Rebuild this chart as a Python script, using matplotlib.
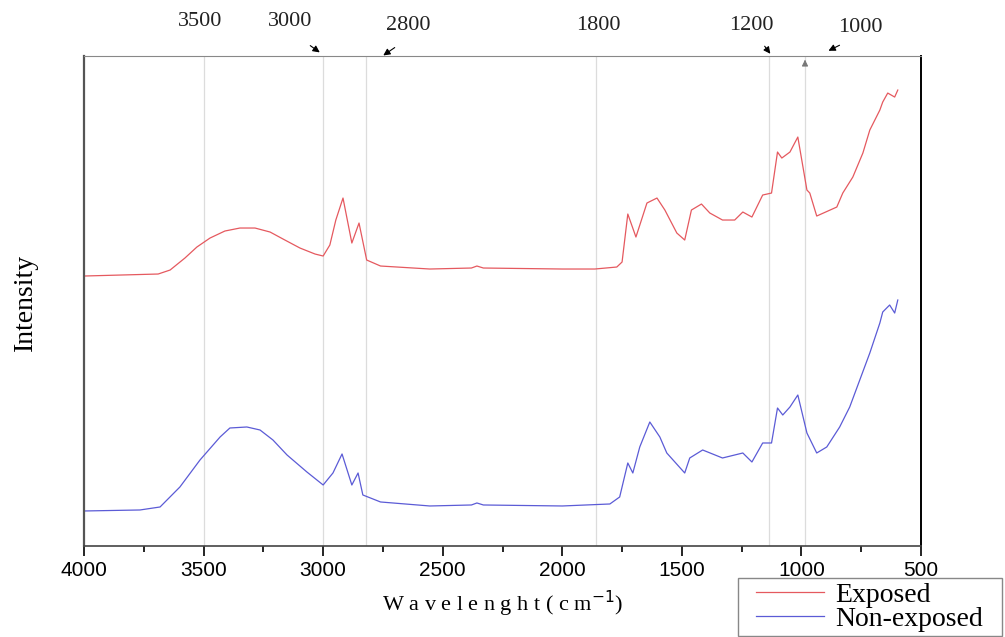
import numpy as np
import matplotlib.pyplot as plt
from matplotlib.ticker import MultipleLocator

# Data (arbitrary intensity units)
wn_exposed = [4000, 3690, 3640, 3578, 3528, 3473, 3411, 3348, 3285, 3222, 3160,
              3097, 3034, 3000, 2972, 2947, 2917, 2880, 2850, 2818, 2760, 2554,
              2380, 2357, 2330, 2000, 1864, 1772, 1750, 1726, 1692, 1646, 1604,
              1571, 1521, 1488, 1460, 1418, 1383, 1330, 1279, 1245, 1207, 1162,
              1125, 1100, 1082, 1048, 1015, 977, 965, 936, 852, 827, 785, 743,
              714, 672, 660, 639, 610, 597]
int_exposed = [2.70, 2.72, 2.76, 2.88, 2.99, 3.08, 3.15, 3.18, 3.18, 3.14, 3.06,
               2.98, 2.92, 2.90, 3.01, 3.26, 3.48, 3.03, 3.23, 2.86, 2.80, 2.77,
               2.78, 2.80, 2.78, 2.77, 2.77, 2.79, 2.84, 3.32, 3.09, 3.43, 3.48,
               3.36, 3.13, 3.06, 3.36, 3.42, 3.33, 3.26, 3.26, 3.34, 3.29, 3.51,
               3.53, 3.94, 3.88, 3.94, 4.09, 3.56, 3.53, 3.30, 3.39, 3.53, 3.69, 3.93,
               4.16, 4.36, 4.44, 4.53, 4.49, 4.56]

wn_nonexp = [4000, 3766, 3682, 3599, 3515, 3431, 3390, 3319, 3264, 3210, 3151,
             3068, 3000, 2959, 2921, 2880, 2854, 2834, 2760, 2554, 2380, 2357,
             2330, 2000, 1801, 1760, 1726, 1705, 1676, 1634, 1592, 1563, 1488,
             1467, 1413, 1330, 1245, 1207, 1162, 1125, 1100, 1078, 1048, 1015,
             977, 936, 894, 840, 798, 756, 714, 672, 660, 631, 610, 597]
int_nonexp = [0.35, 0.36, 0.39, 0.59, 0.86, 1.09, 1.18, 1.19, 1.16, 1.06, 0.91,
              0.74, 0.61, 0.73, 0.92, 0.61, 0.73, 0.51, 0.44, 0.40, 0.41, 0.43,
              0.41, 0.40, 0.42, 0.49, 0.83, 0.73, 0.99, 1.24, 1.09, 0.93, 0.73,
              0.88, 0.96, 0.88, 0.93, 0.84, 1.03, 1.03, 1.38, 1.31, 1.39, 1.51,
              1.13, 0.93, 0.99, 1.19, 1.39, 1.66, 1.93, 2.23, 2.34, 2.41, 2.33, 2.46]

# marked bands
band_lines = [3500, 3000, 2820, 1860, 1135, 985]

serif = ['Liberation Serif', 'DejaVu Serif']
sans = ['Liberation Sans', 'DejaVu Sans']

fig = plt.figure(figsize=(10.05, 6.37), dpi=100)
ax = fig.add_axes([0.0836, 0.1429, 0.8328, 0.7691])

for b in band_lines:
    ax.axvline(b, color='#dcdcdc', lw=0.9, zorder=0)

ax.plot(wn_exposed, int_exposed, color='#e5595f', lw=0.9, label='Exposed')
ax.plot(wn_nonexp, int_nonexp, color='#5b5bd6', lw=0.9, label='Non-exposed')

ax.set_xlim(4000, 500)
ax.set_ylim(0, 4.9)
ax.set_yticks([])
ax.xaxis.set_major_locator(MultipleLocator(500))
ax.xaxis.set_minor_locator(MultipleLocator(250))
ax.tick_params(axis='x', which='major', direction='out', length=7, width=1.2, pad=4)
ax.tick_params(axis='x', which='minor', direction='out', length=4, width=1.2)
for lab in ax.get_xticklabels():
    lab.set_family(sans)
    lab.set_fontsize(15)

ax.spines['top'].set_color('#888888')
ax.spines['left'].set_color('#555555')
ax.spines['left'].set_linewidth(1.6)
ax.spines['bottom'].set_color('#444444')
ax.spines['bottom'].set_linewidth(1.2)
ax.spines['right'].set_color('black')
ax.spines['right'].set_linewidth(1.4)

ax.set_xlabel('W a v e l e n g h t ( c m$^{-1}$)', family=serif, fontsize=16, labelpad=6)
fig.text(0.025, 0.525, 'Intensity', rotation=90, family=serif, fontsize=20,
         ha='center', va='center')

# top band labels
top_labels = [('3500', 200, 22), ('3000', 290, 22), ('2800', 408, 25),
              ('1800', 598, 25), ('1200', 751, 25), ('1000', 860, 27)]
for txt, px, py in top_labels:
    fig.text(px / 1005, 1 - py / 637, txt, family=serif, fontsize=16,
             ha='center', va='center', color='#222222')

arrows = [((308, 44), (322, 54)), ((397, 46), (381, 57)),
          ((763, 44), (772, 56)), ((842, 44), (826, 52))]
for (x0, y0), (x1, y1) in arrows:
    fig.add_artist(plt.Annotation('', xy=(x1 / 1005, 1 - y1 / 637),
                                  xytext=(x0 / 1005, 1 - y0 / 637),
                                  xycoords='figure fraction',
                                  arrowprops=dict(arrowstyle='-|>', color='black',
                                                  lw=0.8, mutation_scale=10)))
fig.add_artist(plt.Annotation('', xy=(805 / 1005, 1 - 57 / 637),
                              xytext=(805 / 1005, 1 - 64 / 637),
                              xycoords='figure fraction',
                              arrowprops=dict(arrowstyle='-|>', color='#777777',
                                              lw=0.8, mutation_scale=9)))

# legend box drawn by hand, entries placed inside it
fig.add_artist(plt.Rectangle((738 / 1005, 1 / 637), 264 / 1005, 58 / 637,
                             transform=fig.transFigure, facecolor='white',
                             edgecolor='#888888', lw=1.0))
leg = fig.legend(loc='center left', bbox_to_anchor=(756 / 1005, 1 - 607 / 637),
                 prop={'family': serif, 'size': 20}, frameon=False,
                 handlelength=2.45, borderpad=0, labelspacing=-0.05,
                 handletextpad=0.4, borderaxespad=0)

plt.savefig('out.png', dpi=100)
